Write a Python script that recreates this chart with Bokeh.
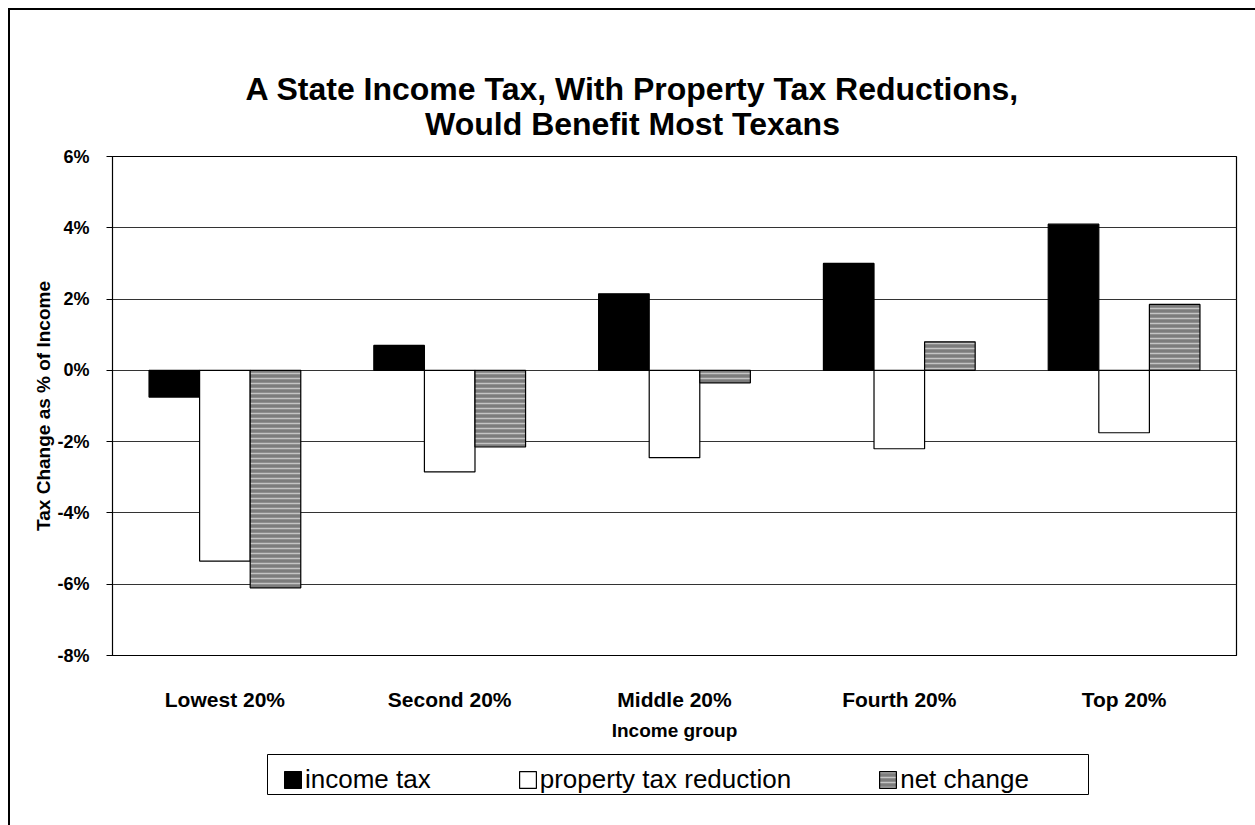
from bokeh.plotting import figure
from bokeh.models import (ColumnDataSource, FactorRange, Range1d, Legend, LegendItem,
                          FixedTicker, Label, BoxAnnotation)
from bokeh.layouts import column
from bokeh.transform import dodge
from bokeh.embed import file_html
from bokeh.resources import INLINE

# ---- data ----
groups = ["Lowest 20%", "Second 20%", "Middle 20%", "Fourth 20%", "Top 20%"]
income_tax = [-0.75, 0.70, 2.15, 3.00, 4.10]
property_tax_reduction = [-5.35, -2.85, -2.45, -2.20, -1.75]
net_change = [-6.10, -2.15, -0.35, 0.80, 1.85]
series_names = ["income tax", "property tax reduction", "net change"]
y_ticks = [-8, -6, -4, -2, 0, 2, 4, 6]
title_lines = ["A State Income Tax, With Property Tax Reductions,",
               "Would Benefit Most Texans"]
x_title = "Income group"
y_title = "Tax Change as % of Income"

FONT = "Liberation Sans"

styles = {
    "income": dict(fill_color="black", line_color="black", line_width=1.2),
    "prop": dict(fill_color="white", line_color="black", line_width=1.2),
    "net": dict(fill_color="#7c7c7c", line_color="black", line_width=1.2,
                hatch_pattern="horizontal_line", hatch_color="#c4c4c4",
                hatch_scale=5, hatch_weight=1.5),
}
keys = ["income", "prop", "net"]

source = ColumnDataSource(dict(group=groups, income=income_tax,
                               prop=property_tax_reduction, net=net_change))


def blank_strip(height):
    f = figure(width=1245, height=height, output_backend="svg", toolbar_location=None,
               x_range=FactorRange(*groups), y_range=Range1d(-8, 6),
               x_axis_location=None, y_axis_location=None, min_border=0)
    f.outline_line_color = None
    f.xgrid.grid_line_color = None
    f.ygrid.grid_line_color = None
    f.background_fill_color = "white"
    f.border_fill_color = "white"
    return f


# ---- title strip ----
tfig = blank_strip(130)
for line, yb in zip(title_lines, (52, 17)):
    tfig.add_layout(Label(x=520, y=yb, x_units="screen", y_units="screen", text=line,
                          text_align="center", text_baseline="alphabetic",
                          text_font=FONT, text_font_style="bold",
                          text_font_size="32px", text_color="black"))

# ---- main chart ----
p = figure(x_range=FactorRange(*groups), y_range=Range1d(-8, 6),
           width=1245, height=610, output_backend="svg", toolbar_location=None,
           min_border_left=102, min_border_top=16, min_border_right=19,
           min_border_bottom=95, title=None)
p.background_fill_color = "white"
p.border_fill_color = "white"
p.outline_line_color = "black"
p.outline_line_width = 1.2

p.xgrid.grid_line_color = None
p.ygrid.grid_line_color = "#333333"
p.ygrid.grid_line_width = 1
p.ygrid.ticker = FixedTicker(ticks=y_ticks)

bw = 0.225
for key, off in zip(keys, (-bw, 0, bw)):
    p.vbar(x=dodge("group", off, range=p.x_range), top=key, width=bw,
           source=source, **styles[key])

yax = p.yaxis[0]
yax.ticker = FixedTicker(ticks=y_ticks)
yax.major_label_overrides = {t: f"{t}%" for t in y_ticks}
yax.major_label_text_font = FONT
yax.major_label_text_font_style = "bold"
yax.major_label_text_font_size = "18px"
yax.major_label_text_color = "black"
yax.major_tick_in = 0
yax.major_tick_out = 6
yax.minor_tick_line_color = None
yax.major_label_standoff = 17
yax.axis_line_color = "black"
yax.axis_label = y_title
yax.axis_label_text_font = FONT
yax.axis_label_text_font_style = "bold"
yax.axis_label_text_font_size = "19px"
yax.axis_label_text_color = "black"
yax.axis_label_standoff = 0

xax = p.xaxis[0]
xax.major_tick_line_color = None
xax.minor_tick_line_color = None
xax.major_label_text_font = FONT
xax.major_label_text_font_style = "bold"
xax.major_label_text_font_size = "21px"
xax.major_label_text_color = "black"
xax.major_label_standoff = 26
xax.axis_line_color = "black"
xax.axis_label = x_title
xax.axis_label_text_font = FONT
xax.axis_label_text_font_style = "bold"
xax.axis_label_text_font_size = "19px"
xax.axis_label_text_color = "black"
xax.axis_label_standoff = 6

# ---- legend strip (hidden proxy renderers carry the styles) ----
leg = blank_strip(75)
items = []
for name, key in zip(series_names, keys):
    r = leg.vbar(x="group", top=key, width=bw, source=source, visible=False,
                 **styles[key])
    items.append(LegendItem(label=name, renderers=[r]))
leg.add_layout(BoxAnnotation(left=155, right=976, bottom=31, top=71,
                             left_units="screen", right_units="screen",
                             bottom_units="screen", top_units="screen",
                             fill_color="white", fill_alpha=1,
                             line_color="black", line_width=1, line_alpha=1))
legend = Legend(items=items, orientation="horizontal", location=(170, 30))
legend.label_text_font = FONT
legend.label_text_font_size = "26px"
legend.label_text_color = "black"
legend.glyph_width = 21
legend.glyph_height = 21
legend.label_standoff = 2
legend.spacing = 86
legend.padding = 5
legend.margin = 0
legend.border_line_color = None
legend.background_fill_alpha = 0
legend.click_policy = "none"
leg.add_layout(legend)

layout = column(tfig, p, leg, spacing=0)
layout.styles = {"margin-left": "8px", "margin-top": "8px",
                 "border-top": "2px solid black", "border-left": "2px solid black"}

open("out.html", "w").write(file_html(layout, INLINE))
